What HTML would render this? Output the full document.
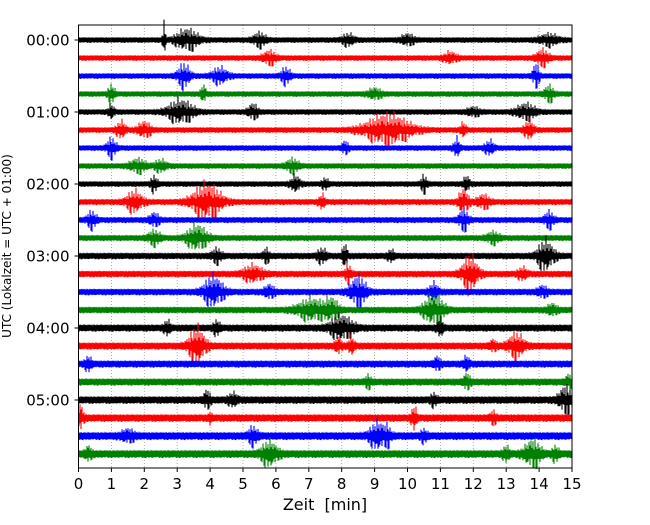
<!DOCTYPE html>
<html><head><meta charset="utf-8"><style>
body{margin:0;background:#fff;font-family:"Liberation Sans","DejaVu Sans",sans-serif}
svg text{font-family:"DejaVu Sans","Liberation Sans",sans-serif}
</style></head><body>
<svg id="c" width="650" height="520"></svg>
<script>
// data
const hourLabels=["00:00","01:00","02:00","03:00","04:00","05:00"];
const xTicks=[0,1,2,3,4,5,6,7,8,9,10,11,12,13,14,15];
const traceColors=["#000000","#ff0000","#0000ff","#008000"];
const baseAmp=[3,3,3,3,3,3,3,3,3,3.2,3.2,3.2,3.5,3.5,3.5,3.5,3.8,3.8,3.8,3.8,4,4,4.2,4.2];
// events: [trace, minute, amplitude(px), width(min)]
const events=[
[0,2.6,12,0.05],[0,3.3,8,0.35],[0,5.5,5,0.2],[0,8.2,4,0.2],[0,10,4,0.2],[0,14.3,4,0.3],
[1,5.8,5,0.2],[1,11.3,4,0.2],[1,14.1,6,0.2],
[2,3.2,9,0.2],[2,4.3,6,0.25],[2,6.3,6,0.15],[2,13.9,10,0.1],
[3,1.0,7,0.1],[3,3.8,7,0.08],[3,14.3,6,0.15],[3,9,4,0.2],
[4,1.0,5,0.1],[4,3.1,9,0.4],[4,5.3,6,0.15],[4,13.6,6,0.3],[4,12,3,0.2],
[5,1.3,6,0.15],[5,2.0,6,0.2],[5,9.4,12,0.7],[5,11.7,5,0.1],[5,13.7,7,0.15],
[6,1.0,7,0.15],[6,8.1,5,0.1],[6,11.5,7,0.1],[6,12.5,5,0.15],
[7,1.8,5,0.25],[7,2.5,4,0.2],[7,6.5,5,0.2],
[8,2.3,6,0.1],[8,6.6,6,0.15],[8,7.5,4,0.1],[8,10.5,6,0.1],[8,11.8,6,0.1],
[9,1.7,8,0.25],[9,3.9,14,0.45],[9,7.4,5,0.1],[9,11.7,10,0.15],[9,12.3,5,0.2],
[10,0.4,6,0.15],[10,2.3,5,0.15],[10,11.7,8,0.15],[10,14.3,6,0.15],
[11,2.3,5,0.2],[11,3.6,10,0.3],[11,12.6,4,0.2],
[12,4.2,5,0.15],[12,5.7,5,0.1],[12,7.4,5,0.15],[12,8.1,10,0.08],[12,9.5,4,0.1],[12,14.2,12,0.25],
[13,5.3,6,0.3],[13,8.2,6,0.1],[13,11.9,14,0.25],[13,13.5,4,0.15],
[14,4.1,12,0.3],[14,5.8,5,0.15],[14,8.5,12,0.25],[14,10.8,6,0.15],[14,14.1,4,0.15],
[15,7.1,8,0.45],[15,7.7,8,0.2],[15,10.8,12,0.3],[15,14.4,4,0.15],
[16,2.7,5,0.1],[16,8.0,9,0.35],[16,11,6,0.1],[16,4.2,5,0.1],
[17,3.6,14,0.25],[17,7.9,6,0.1],[17,8.3,6,0.1],[17,13.3,9,0.25],[17,12.6,4,0.1],
[18,0.3,5,0.1],[18,10.9,5,0.1],[18,11.8,5,0.1],
[19,8.8,4,0.1],[19,11.8,6,0.1],[19,14.9,5,0.1],
[20,3.9,7,0.1],[20,4.7,4,0.15],[20,10.8,4,0.1],[20,14.8,10,0.2],
[21,0.05,10,0.1],[21,4,4,0.05],[21,10.2,9,0.08],[21,12.6,4,0.1],
[22,1.5,4,0.2],[22,5.3,6,0.15],[22,9.1,10,0.25],[22,9.4,5,0.1],[22,10.5,4,0.1],
[23,0.3,5,0.1],[23,5.8,9,0.25],[23,13,5,0.1],[23,13.8,10,0.25],[23,14.5,5,0.1]
];
const NS="http://www.w3.org/2000/svg";
const svg=document.getElementById('c');
const X0=78.5,X1=572,Y0=25,Y1=468;
const xs=m=>X0+(X1-X0)*m/15;
const ys=i=>40+18*i;
function el(t,a,p){const e=document.createElementNS(NS,t);for(const k in a)e.setAttribute(k,a[k]);(p||svg).appendChild(e);return e;}
xTicks.forEach(t=>{
  const g=el('line',{x1:xs(t),x2:xs(t),y1:Y0,y2:Y1,stroke:'#999','stroke-width':0.8,'stroke-dasharray':'1,2'});
  
  
});
// visual texture pattern (style only)
const tex=[1,0.55,0.95,0.4,1.15,0.7,0.5,1.05,0.6,0.85,0.45,1.2,0.65,0.9,0.5,1.0,0.75];
for(let i=0;i<baseAmp.length;i++){
  const y=ys(i);let d='';
  const evs=events.filter(e=>e[0]===i);
  for(let px=Math.ceil(X0);px<=X1;px++){
    const m=(px-X0)/(X1-X0)*15;
    let a=0;
    evs.forEach(e=>{const z=(m-e[1])/e[3];a+=e[2]*Math.exp(-z*z);});
    const f=tex[(px+i*5)%tex.length],g=tex[(px*7+3+i)%tex.length];
    const b=baseAmp[i]*0.9;
    d+=`M${px} ${(y-b*(0.6+0.4*f)-a*f*f).toFixed(1)}V${(y+b*(0.6+0.4*g)+a*g*g).toFixed(1)}`;
  }
  const p=el('path',{d:d,stroke:traceColors[i%4],'stroke-width':1.1,fill:'none'});
  
  
}
const fr=el('rect',{x:X0,y:Y0,width:X1-X0,height:Y1-Y0,fill:'none',stroke:'#000','stroke-width':1});


xTicks.forEach(t=>{
  el('line',{x1:xs(t),x2:xs(t),y1:Y1,y2:Y1+4,stroke:'#000'});
  const tx=el('text',{x:xs(t),y:Y1+21,'font-size':15,'text-anchor':'middle'});
  tx.textContent=t;
  
  
});
hourLabels.forEach((h,k)=>{
  const y=ys(k*4);
  el('line',{x1:X0-4,x2:X0,y1:y,y2:y,stroke:'#000'});
  const tx=el('text',{x:X0-9,y:y+5.5,'font-size':15,'text-anchor':'end'});
  tx.textContent=h;
  
  
});
const xl=el('text',{x:325,y:510,'font-size':16,'text-anchor':'middle'});
xl.textContent='Zeit\u00a0 [min]';


const yl=el('text',{x:0,y:0,'font-size':12,'text-anchor':'middle',transform:'translate(11,246) rotate(-90)'});
yl.textContent='UTC (Lokalzeit = UTC + 01:00)';


</script>
</body></html>
